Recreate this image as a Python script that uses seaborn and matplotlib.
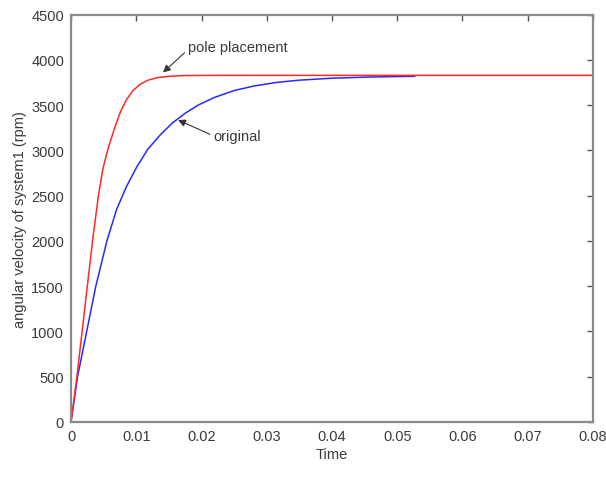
import numpy as np
import pandas as pd
import matplotlib
matplotlib.use("Agg")
import matplotlib.pyplot as plt
import seaborn as sns

# Step response of system 1, speed in rpm
pole_t = [0, 0.0009, 0.0017, 0.0025, 0.0033, 0.0042, 0.0049, 0.0056, 0.0067,
          0.0076, 0.0085, 0.0095, 0.0106, 0.0118, 0.0132, 0.0150, 0.0175, 0.022, 0.08]
pole_v = [0, 500, 1000, 1500, 2000, 2500, 2800, 3000, 3250,
          3430, 3560, 3660, 3730, 3775, 3803, 3818, 3826, 3828, 3828]

orig_t = [0, 0.0010, 0.0024, 0.0038, 0.0055, 0.0070, 0.0085, 0.0101, 0.0118,
          0.0136, 0.0155, 0.0175, 0.0195, 0.0220, 0.0250, 0.0280, 0.0315, 0.0350,
          0.0400, 0.0460, 0.0527]
orig_v = [0, 500, 1000, 1500, 2000, 2350, 2600, 2820, 3015,
          3165, 3300, 3410, 3500, 3585, 3660, 3710, 3750, 3775,
          3797, 3810, 3818]

x_ticks = [0, 0.01, 0.02, 0.03, 0.04, 0.05, 0.06, 0.07, 0.08]
y_ticks = [0, 500, 1000, 1500, 2000, 2500, 3000, 3500, 4000, 4500]

df = pd.concat([
    pd.DataFrame({"t": pole_t, "v": pole_v, "ctrl": "pole placement"}),
    pd.DataFrame({"t": orig_t, "v": orig_v, "ctrl": "original"}),
])

sns.set_theme(style="white")
plt.rcParams["font.family"] = ["Liberation Sans", "DejaVu Sans"]

fig = plt.figure(figsize=(6.06, 5.02), dpi=100)
ax = fig.add_axes([0.1172, 0.1574, 0.8613, 0.8117])

sns.lineplot(data=df, x="t", y="v", hue="ctrl",
             palette={"pole placement": "#ff2828", "original": "#2828ff"},
             hue_order=["original", "pole placement"],
             estimator=None, sort=False, linewidth=1.1, legend=False, ax=ax)

ax.set_xlim(0, 0.08)
ax.set_ylim(0, 4500)
ax.set_xticks(x_ticks)
ax.set_xticklabels(["0" if v == 0 else f"{v:g}" for v in x_ticks])
ax.set_yticks(y_ticks)
ax.set_yticklabels([str(v) for v in y_ticks])

frame = "#8a8a8a"
for sp in ax.spines.values():
    sp.set_visible(True)
    sp.set_color(frame)
    sp.set_linewidth(1.6)
ax.tick_params(direction="in", length=4, width=1.0, color="#555555",
               top=True, right=True, labelsize=10.5, labelcolor="#3a3a3a", pad=5)

ax.set_xlabel("Time", fontsize=10.5, color="#3a3a3a", labelpad=3)
ax.set_ylabel("angular velocity of system1 (rpm)", fontsize=10.5,
              color="#3a3a3a", labelpad=3)

arrow = dict(arrowstyle="-|>", color="#333333", lw=0.8, mutation_scale=11,
             shrinkA=0, shrinkB=0)
ax.annotate("pole placement", xy=(0.0141, 3860), xytext=(0.0179, 4141),
            ha="left", va="center", fontsize=10.5, color="#3a3a3a",
            arrowprops=dict(arrow, relpos=(0.0, 0.3)))
ax.annotate("original", xy=(0.0164, 3335), xytext=(0.0218, 3161),
            ha="left", va="center", fontsize=10.5, color="#3a3a3a",
            arrowprops=dict(arrow, relpos=(0.0, 0.5)))

fig.savefig("out.png", dpi=100)
